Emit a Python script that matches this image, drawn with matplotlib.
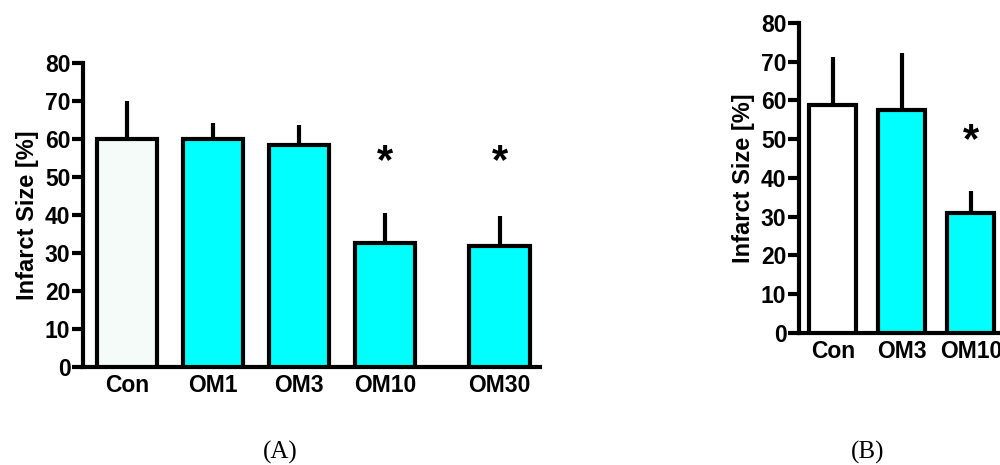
import matplotlib.pyplot as plt

# Pannello A
labels_a = ["Con", "OM1", "OM3", "OM10", "OM30"]
pos_a = [0, 1, 2, 3, 4.33]
mean_a = [60.0, 60.0, 58.5, 32.6, 31.8]
err_a = [10.0, 4.2, 5.2, 8.0, 8.0]
colors_a = ["#f4fbf8", "#00ffff", "#00ffff", "#00ffff", "#00ffff"]
star_a = [False, False, False, True, True]

# Pannello B
labels_b = ["Con", "OM3", "OM10"]
pos_b = [0, 1, 2]
mean_b = [58.8, 57.5, 31.0]
err_b = [12.4, 14.8, 5.7]
colors_b = ["#ffffff", "#00ffff", "#00ffff"]
star_b = [False, False, True]

yticks = [0, 10, 20, 30, 40, 50, 60, 70, 80]

plt.rcParams['font.family'] = ['Liberation Sans', 'DejaVu Sans']

fig = plt.figure(figsize=(10, 4.65), dpi=100)
ax_a = fig.add_axes([0.083, 0.2108, 0.457, 0.6537])
ax_b = fig.add_axes([0.799, 0.2839, 0.2065, 0.6667])


def disegna(ax, pos, mean, err, colors, labels, star, xlim, wid, star_y):
    ax.bar(pos, mean, width=wid, color=colors, edgecolor="black", linewidth=3,
           zorder=3)
    ax.errorbar(pos, mean, yerr=[[0] * len(err), err], fmt="none",
                ecolor="black", elinewidth=3, capsize=0, zorder=2)
    for p, s in zip(pos, star):
        if s:
            ax.text(p, star_y, "*", ha="center", va="center", fontsize=30,
                    fontweight="bold")
    ax.set_xlim(xlim)
    ax.set_ylim(0, 80)
    ax.set_yticks(yticks)
    ax.set_xticks(pos)
    ax.set_xticklabels(labels, fontsize=16.5, fontweight="bold")
    ax.set_yticklabels([str(t) for t in yticks], fontsize=16.5, fontweight="bold")
    ax.tick_params(axis="y", width=3, length=8, pad=1)
    ax.tick_params(axis="x", length=0, pad=5)
    for s in ["top", "right"]:
        ax.spines[s].set_visible(False)
    for s in ["left", "bottom"]:
        ax.spines[s].set_linewidth(3)
    ax.set_ylabel("Infarct Size [%]", fontsize=17, fontweight="bold", labelpad=4)


disegna(ax_a, pos_a, mean_a, err_a, colors_a, labels_a, star_a,
        (-0.51, 4.8), 0.7, 53.8)
disegna(ax_b, pos_b, mean_b, err_b, colors_b, labels_b, star_b,
        (-0.49, 2.5), 0.68, 49.5)

fig.text(0.28, 0.027, "(A)", ha="center", va="center", fontsize=18,
         family="Liberation Serif")
fig.text(0.868, 0.027, "(B)", ha="center", va="center", fontsize=18,
         family="Liberation Serif")

plt.savefig("out.png", dpi=100)
